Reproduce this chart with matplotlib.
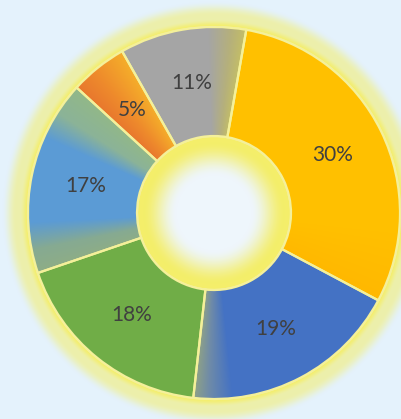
import numpy as np
import matplotlib
matplotlib.use("Agg")
import matplotlib.pyplot as plt
from matplotlib.colors import to_rgb
from matplotlib.patches import Wedge

# ---- data ----
values = [30, 19, 18, 17, 5, 11]
colors = ["#FFC000", "#4472C4", "#70AD47", "#5B9BD5", "#ED7D31", "#A5A5A5"]
# soft colour shading along each slice (fraction along clockwise sweep, colour)
shading = [
    [(0, "#FFC000"), (0.8, "#FFC000"), (1, "#FFB800")],
    [(0, "#4472C4"), (0.82, "#4472C4"), (0.93, "#6F8BA8"), (1, "#8FA286")],
    [(0, "#70AD47"), (1, "#70AD47")],
    [(0, "#8EAD86"), (0.12, "#86AA92"), (0.26, "#5B9BD5"), (0.7, "#5B9BD5"),
     (0.84, "#8BB398"), (1, "#92B888")],
    [(0, "#E8772E"), (0.4, "#EE8A2C"), (1, "#F5AE2A")],
    [(0, "#A5A5A5"), (0.7, "#A5A5A5"), (0.88, "#B5B07C"), (1, "#C4BE66")],
]

W, H = 402, 419
fig = plt.figure(figsize=(W / 100, H / 100), dpi=100)
ax = fig.add_axes([0, 0, 1, 1])

cx, cy, R, r_in = 214, 206, 186, 77


def smooth(t):
    t = np.clip(t, 0, 1)
    return t * t * (3 - 2 * t)


# background with yellow glow
yy, xx = np.mgrid[0:H, 0:W] + 0.5
d = np.hypot(xx - cx, yy - cy)
bg = np.array(to_rgb("#E4F2FC"))
centre = np.array(to_rgb("#EEF6FC"))
yel = np.array(to_rgb("#F4EE6A"))
outer = np.where(d >= R - 2, 0.55 + 0.45 * smooth((8 - (d - R)) / 8), 0)
outer = np.where(d >= R - 2, outer * smooth((26 - (d - R)) / 14), 0)
inner = np.where(d < r_in, smooth((r_in - d - 4) / -30 + 1) , 0)
inner = np.where(d < r_in, smooth(1 - (r_in - d - 6) / 34), 0)
a = np.maximum(outer, inner)
base = np.where((d < r_in)[..., None], centre, bg)
img = base * (1 - a[..., None]) + yel * a[..., None]
ax.imshow(img, extent=(0, W, 0, H), origin="lower", zorder=0, interpolation="bilinear")

wedges, texts, autotexts = ax.pie(
    values, colors=colors, startangle=80, counterclock=False,
    center=(cx, cy), radius=R, frame=True,
    autopct=lambda p: f"{p:.0f}%", pctdistance=(R + r_in) / 2 / R,
    wedgeprops=dict(width=R - r_in, edgecolor="#F4F09A", linewidth=1.6),
    textprops=dict(color="#404040", fontsize=15, family=["Lato", "DejaVu Sans"]),
)
ax.set_xlim(0, W)
ax.set_ylim(0, H)
ax.set_aspect("equal")
ax.axis("off")

ang = np.degrees(np.arctan2(yy - cy, xx - cx))
for w, stops in zip(wedges, shading):
    w.set_zorder(2)
    span = w.theta2 - w.theta1
    f = np.clip(((w.theta2 - ang) % 360) / span, 0, 1)
    fs = np.array([s[0] for s in stops])
    cols = np.array([to_rgb(s[1]) for s in stops])
    rgb = np.stack([np.interp(f, fs, cols[:, k]) for k in range(3)], axis=-1)
    im = ax.imshow(rgb, extent=(0, W, 0, H), origin="lower", zorder=3,
                   interpolation="bilinear")
    im.set_clip_path(w)
    edge = Wedge((cx, cy), R, w.theta1, w.theta2, width=R - r_in,
                 facecolor="none", edgecolor="#F4F09A", linewidth=1.6, zorder=4)
    ax.add_patch(edge)

for t in autotexts:
    t.set_zorder(5)

fig.savefig("out.png", dpi=100)
